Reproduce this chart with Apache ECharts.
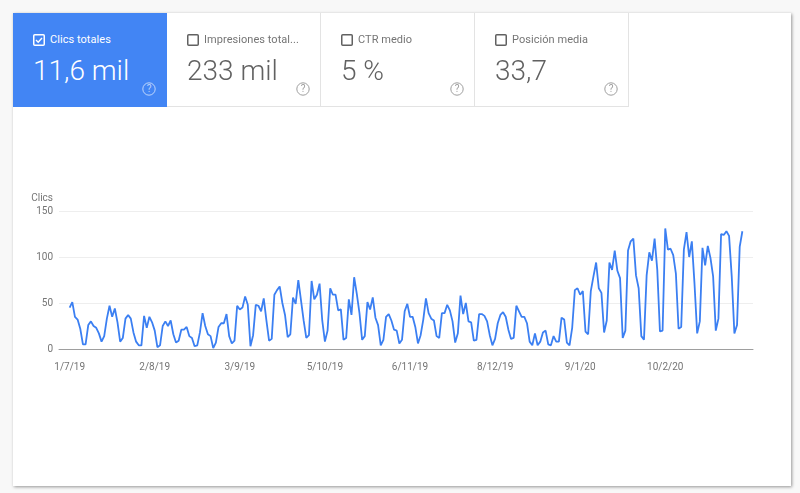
<!DOCTYPE html>
<html>
<head>
<meta charset="utf-8">
<title>Clics totales</title>
<script src="https://cdn.jsdelivr.net/npm/echarts@6/dist/echarts.min.js"></script>
<style>
    html, body { margin: 0; height: 100%; background: #f8f8f8; overflow: hidden; font-family: Roboto, sans-serif; }
    #card { position: absolute; left: 13px; top: 13px; width: 778px; height: 473px; background: #fff; box-shadow: 1px 1px 3px rgba(0, 0, 0, .4); }
    #chart { position: absolute; left: 0; top: 0; width: 800px; height: 493px; }
    .tile { position: absolute; top: 13px; width: 153px; height: 93px; box-sizing: content-box; border-right: 1px solid #e3e3e3; border-bottom: 1px solid #e3e3e3; color: #616161; }
    .tile.active { background: #4285f4; color: #fff; border-color: #4285f4; }
    .box { position: absolute; left: 20px; top: 21px; width: 12px; height: 12px; }
    .label { position: absolute; left: 37px; top: 20px; font-size: 11px; line-height: 14px; letter-spacing: .05px; color: #757575; white-space: nowrap; }
    .active .label { color: #fff; }
    .value { position: absolute; left: 20px; top: 40px; font-size: 28px; line-height: 36px; font-weight: 300; white-space: nowrap; }
    .help { position: absolute; left: 129px; top: 69px; width: 14px; height: 14px; color: #9e9e9e; }
    .active .help { color: rgba(255, 255, 255, .65); }
</style>
</head>
<body>
<div id="card"></div>
<div id="chart"></div>
<script>
const tileLabels = ["Clics totales", "Impresiones total...", "CTR medio", "Posición media"];
const tileValues = ["11,6 mil", "233 mil", "5 %", "33,7"];
const tickLabels = ["1/7/19", "2/8/19", "3/9/19", "5/10/19", "6/11/19", "8/12/19", "9/1/20", "10/2/20"];
const clicks = [
    45, 51, 35, 32, 22, 5, 5, 26, 30, 25, 23, 17, 8, 14, 33, 47, 35, 44, 29, 8, 12, 33, 37, 33, 18, 8, 4, 4, 36, 23, 35, 29,
    20, 2, 4, 25, 30, 25, 31, 16, 7, 9, 21, 21, 24, 14, 12, 3, 4, 18, 39, 25, 16, 14, 1, 7, 24, 28, 28, 38, 14, 6, 9, 47,
    43, 45, 57, 48, 3, 15, 48, 47, 41, 55, 31, 9, 11, 59, 64, 68, 50, 37, 13, 16, 56, 49, 75, 53, 31, 12, 15, 74, 54, 59, 71, 31,
    8, 20, 66, 59, 59, 42, 43, 10, 12, 54, 37, 78, 60, 39, 10, 14, 51, 43, 56, 34, 26, 4, 10, 35, 38, 31, 21, 20, 6, 10, 41, 49,
    35, 35, 24, 6, 15, 32, 55, 39, 33, 31, 14, 12, 39, 39, 48, 42, 30, 7, 17, 58, 38, 50, 30, 29, 9, 10, 38, 38, 36, 30, 15, 4,
    11, 28, 37, 40, 35, 21, 11, 12, 47, 41, 35, 35, 28, 8, 4, 17, 4, 8, 18, 20, 5, 4, 14, 8, 8, 34, 32, 7, 4, 23, 64, 66,
    59, 63, 19, 16, 63, 79, 94, 66, 61, 18, 31, 94, 86, 107, 85, 77, 12, 20, 107, 117, 120, 80, 66, 14, 10, 80, 105, 96, 120, 86,
    19, 20, 131, 108, 109, 102, 82, 22, 24, 108, 127, 100, 117, 71, 17, 30, 110, 91, 112, 99, 79, 20, 33, 125, 124, 128, 123, 79, 17, 26, 111, 128
];
const yTicks = [0, 150, 50];

const TICK_STEP = 32;
const PADDING = 4;

const helpIcon = `<svg class="help" viewBox="0 0 14 14"><circle cx="7" cy="7" r="6.2" fill="none" stroke="currentColor" stroke-width="1"/><text x="7" y="10.4" text-anchor="middle" font-size="10" fill="currentColor">?</text></svg>`;

function checkbox(checked) {
    if (checked) {
        return `<svg class="box" viewBox="0 0 12 12"><rect x=".75" y=".75" width="10.5" height="10.5" rx="1" fill="none" stroke="#fff" stroke-width="1.5"/><path d="M3 6l2.2 2.2L9 4" fill="none" stroke="#fff" stroke-width="1.4"/></svg>`;
    }

    return `<svg class="box" viewBox="0 0 12 12"><rect x=".75" y=".75" width="10.5" height="10.5" rx="1" fill="none" stroke="#616161" stroke-width="1.5"/></svg>`;
}

tileLabels.forEach((label, index) => {
    const tile = document.createElement("div");
    tile.className = index === 0 ? "tile active" : "tile";
    tile.style.left = `${13 + index * 154}px`;
    tile.innerHTML = `${checkbox(index === 0)}<div class="label">${label}</div><div class="value">${tileValues[index]}</div>${helpIcon}`;
    document.body.appendChild(tile);
});

const blanks = new Array(PADDING).fill(null);
const categories = [...blanks, ...clicks, ...blanks].map((_, index) => {
    const day = index - PADDING;
    return day >= 0 && day % TICK_STEP === 0 ? tickLabels[day / TICK_STEP] || "" : "";
});

const chart = echarts.init(document.getElementById("chart"), null, { renderer: "canvas" });

chart.setOption({
    animation: false,
    grid: { left: 59, right: 47, top: 211, bottom: 144 },
    xAxis: {
        type: "category",
        boundaryGap: false,
        data: categories,
        axisLine: { lineStyle: { color: "#9e9e9e", width: 1 } },
        axisTick: { show: false },
        axisLabel: {
            interval: index => categories[index] !== "",
            color: "#757575",
            fontFamily: "Roboto",
            fontSize: 10,
            margin: 13
        }
    },
    yAxis: {
        type: "value",
        min: yTicks[0],
        max: yTicks[1],
        interval: yTicks[2],
        name: "Clics",
        nameGap: 8,
        nameTextStyle: { color: "#757575", fontFamily: "Roboto", fontSize: 10, align: "right", padding: [0, 6, 0, 0] },
        axisLine: { show: false },
        axisTick: { show: false },
        axisLabel: { color: "#757575", fontFamily: "Roboto", fontSize: 10, margin: 6 },
        splitLine: { lineStyle: { color: "#eeeeee", width: 1 } }
    },
    series: [
        {
            name: "Clics",
            type: "line",
            showSymbol: false,
            smooth: false,
            lineStyle: { color: "#3b7ff2", width: 1.8 },
            data: [...blanks, ...clicks, ...blanks]
        }
    ]
});
</script>
</body>
</html>
